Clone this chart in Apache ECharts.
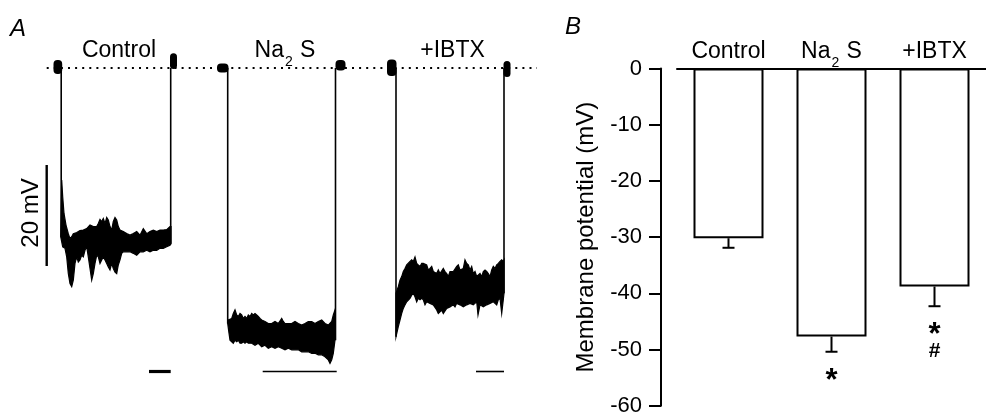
<!DOCTYPE html>
<html><head><meta charset="utf-8">
<script src="https://cdn.jsdelivr.net/npm/echarts@6/dist/echarts.min.js"></script>
<style>html,body{margin:0;padding:0;background:#fff}#c{width:986px;height:417px}</style>
</head><body><div id="c"></div>
<script>
// ---------- Panel B data ----------
const categories = ['Control', 'Na2S', '+IBTX'];
const meanPotential = [-30.2, -47.7, -38.8];   // mV
const semPotential = [1.7, 2.7, 3.5];          // mV
const significance = ['', '*', '*#'];
const potentialMin = -60, potentialMax = 0, potentialStep = 10;

// ---------- Panel A data (time in arbitrary units, potential in mV relative to baseline) ----------
const traceNames = ['Control', 'Na2S', '+IBTX'];
const controlUpper = [[21.7,-22.2],[22.7,-25.5],[24,-28.8],[26,-31.1],[28.3,-32.8],[30,-33.8],[31.7,-33.4],[33.3,-32.8],[36.7,-32.6],[40,-32.2],[43.3,-32.1],[46.7,-31.8],[50,-31.1],[53.3,-31.4],[56.7,-31.4],[58.3,-30.8],[60,-30.0],[61.7,-30.4],[63.3,-29.8],[65,-30.8],[66.7,-29.6],[68.3,-30.1],[70,-31.4],[71.7,-32.1],[73.3,-30.4],[75,-29.6],[76.7,-30.1],[78.3,-31.4],[80,-32.1],[83.3,-32.4],[86.7,-32.8],[90,-33.1],[93.3,-32.8],[96.7,-32.4],[100,-33.1],[103.3,-31.8],[106.7,-32.8],[110,-32.4],[113.3,-32.1],[116.7,-32.4],[120,-32.1],[123.3,-32.1],[126.7,-32.0],[130,-31.4],[131,-31.4]];
const controlLower = [[20.7,-33.4],[22.7,-35.4],[25,-35.7],[26.7,-37.4],[28.3,-40.7],[30,-42.7],[31.7,-43.3],[33.3,-42.0],[35,-38.7],[36.7,-37.4],[38.3,-38.4],[40,-38.0],[41.7,-37.1],[43.3,-37.4],[45,-36.1],[46.7,-35.4],[48.3,-37.4],[50,-39.7],[51.7,-42.0],[53.3,-40.7],[55,-38.7],[56.7,-37.1],[58.3,-37.4],[60,-38.7],[61.7,-38.0],[63.3,-37.4],[65,-38.0],[66.7,-38.7],[68.3,-39.4],[70,-40.0],[71.7,-38.7],[73.3,-39.7],[75,-40.4],[76.7,-40.7],[78.3,-39.0],[80,-38.0],[81.7,-36.7],[83.3,-36.4],[86.7,-36.4],[90,-36.4],[93.3,-36.7],[96.7,-37.1],[100,-36.4],[103.3,-36.4],[106.7,-36.1],[110,-36.4],[113.3,-36.1],[116.7,-36.1],[120,-35.7],[123.3,-35.7],[126.7,-35.4],[130,-35.1],[131,-34.8]];
const na2sUpper = [[188,-49.9],[191.7,-49.6],[193.3,-48.6],[195,-47.9],[196.7,-48.9],[198.3,-49.2],[200,-48.6],[201.7,-48.9],[203.3,-49.6],[205,-49.2],[206.7,-49.6],[208.3,-48.9],[210,-49.2],[211.7,-48.6],[213.3,-48.9],[215,-48.6],[216.7,-48.9],[218.3,-49.2],[220,-49.6],[221.7,-49.9],[225,-50.2],[228.3,-50.6],[231.7,-50.6],[235,-50.2],[238.3,-50.6],[241.7,-49.6],[243.3,-50.2],[245,-50.6],[248.3,-50.6],[251.7,-50.6],[255,-50.2],[258.3,-50.6],[261.7,-50.9],[265,-50.6],[268.3,-50.2],[271.7,-50.2],[275,-50.6],[278.3,-50.2],[281.7,-49.9],[285,-50.6],[288.3,-50.9],[291.7,-50.2],[293.3,-48.9],[295,-47.9]];
const na2sLower = [[187.7,-50.6],[189,-52.5],[190,-53.9],[191.7,-54.2],[193.3,-54.5],[195,-53.9],[196.7,-54.2],[198.3,-53.9],[200,-54.5],[201.7,-54.5],[203.3,-54.2],[205,-54.5],[206.7,-54.2],[208.3,-54.5],[211.7,-54.5],[215,-54.9],[218.3,-54.5],[221.7,-55.2],[225,-54.9],[228.3,-55.5],[231.7,-55.2],[235,-55.5],[238.3,-55.2],[241.7,-55.5],[245,-55.8],[248.3,-55.5],[251.7,-55.8],[255,-55.8],[258.3,-55.8],[261.7,-56.2],[265,-56.2],[268.3,-56.2],[271.7,-56.5],[275,-56.5],[278.3,-56.8],[281.7,-56.8],[285,-57.2],[288.3,-57.8],[290,-58.5],[291.7,-57.8],[293.3,-56.5],[295,-53.9]];
const ibtxUpper = [[356,-44.6],[358.3,-43.3],[360,-42.0],[361.7,-41.3],[363.3,-40.3],[365,-39.7],[366.7,-39.0],[370,-38.3],[371.7,-38.0],[373.3,-38.3],[375,-37.4],[376.7,-38.7],[378.3,-39.0],[380,-39.3],[381.7,-38.7],[383.3,-38.7],[386.7,-39.0],[388.3,-40.0],[390,-39.7],[391.7,-39.3],[393.3,-40.3],[396.7,-40.7],[398.3,-40.0],[400,-40.7],[403.3,-39.7],[405,-40.3],[406.7,-40.7],[408.3,-41.3],[410,-40.3],[413.3,-40.3],[416.7,-39.3],[418.3,-39.0],[420,-40.0],[423.3,-39.7],[425,-38.0],[426.7,-38.7],[428.3,-39.0],[430,-40.0],[431.7,-39.3],[433.3,-40.7],[435,-40.3],[436.7,-41.3],[440,-40.7],[441.7,-41.3],[443.3,-40.3],[445,-40.0],[446.7,-40.3],[448.3,-40.7],[450,-41.3],[451.7,-40.0],[453.3,-39.3],[455,-39.7],[456.7,-39.0],[458.3,-38.7],[460,-38.3],[461.7,-38.0],[463.3,-38.3],[464,-38.0]];
const ibtxLower = [[356,-53.2],[358.3,-51.2],[360,-49.9],[361.7,-48.6],[363.3,-47.6],[365,-46.9],[366.7,-46.3],[370,-45.6],[371.7,-45.0],[373.3,-44.6],[375,-45.3],[376.7,-46.3],[378.3,-45.6],[380,-45.9],[381.7,-45.6],[383.3,-45.9],[385,-46.9],[386.7,-46.3],[390,-46.6],[393.3,-46.9],[396.7,-47.9],[398.3,-48.6],[400,-48.3],[401.7,-47.9],[403.3,-48.6],[406.7,-47.6],[410,-47.3],[413.3,-46.9],[415,-47.3],[416.7,-46.6],[420,-46.9],[423.3,-47.3],[426.7,-46.9],[430,-46.6],[433.3,-46.9],[436.7,-46.3],[438,-48.9],[440,-46.9],[443.3,-47.3],[446.7,-46.9],[450,-46.6],[453.3,-46.3],[456.7,-46.9],[458.3,-45.9],[460,-45.6],[461.7,-48.6],[463.3,-45.9],[464,-44.6]];
const stepTimes = [[21.2, 130.7], [187.7, 295.5], [356, 464]];   // drop / return of each trace
// baseline noise before and after each step: [tStart, tEnd, max mV, min mV]
const baselineBlobs = [[13.5,22.2,1.6,-1.2],[130,137,2.9,-0.2],[177,188.5,0.9,-0.9],[295.5,305.5,1.6,-0.5],[347,356.5,1.7,-1.6],[463.5,470.5,1.4,-1.8]];
const analysisWindows = [[109, 130.7], [222.7, 296.7], [436, 464]];
const analysisLevel = -60.1;
const baselineSpan = [6.7, 497];
const scaleBar = {time: 6.7, top: -19.2, size: 20, label: '20 mV'};

// ---------- rendering ----------
const FONT = 'Liberation Sans, Arial, Helvetica, sans-serif';
const chart = echarts.init(document.getElementById('c'), null, {renderer: 'canvas'});

const richLabel = {
  n: {fontSize: 23, lineHeight: 30, fontFamily: FONT, color: '#000', verticalAlign: 'top'},
  s: {fontSize: 14, lineHeight: 14, fontFamily: FONT, color: '#000', padding: [16, 1, 0, 1], verticalAlign: 'top'}
};
function labelText(name) {
  return name === 'Na2S' ? '{n|Na}{s|2}{n| S}' : '{n|' + name + '}';
}

function polygonSeries(upper, lower) {
  const poly = upper.concat(lower.slice().reverse());
  return {
    type: 'custom', xAxisIndex: 0, yAxisIndex: 0, silent: true, data: poly,
    renderItem: function (params, api) {
      if (params.dataIndex !== 0) return null;
      return {type: 'polygon', shape: {points: poly.map(p => api.coord(p))},
              style: {fill: '#000', stroke: '#000', lineWidth: 1.2}};
    }
  };
}

const envelopes = [[controlUpper, controlLower], [na2sUpper, na2sLower], [ibtxUpper, ibtxLower]];
const stepData = [];
stepTimes.forEach((st, i) => {
  const low = envelopes[i][1];
  stepData.push([st[0], 0, low[0][1]]);
  stepData.push([st[1], low[low.length - 1][1], 0]);
});
const windowWidths = [3.2, 1.6, 1.6];

const traceLabelX = [119, 285, 452.5];

const option = {
  animation: false,
  backgroundColor: '#fff',
  grid: [
    {left: 40, top: 17.5, width: 505, height: 378.75},
    {left: 677, top: 68.5, right: -7.5, height: 337.2}
  ],
  xAxis: [
    {gridIndex: 0, type: 'value', min: 0, max: 505, show: false},
    {gridIndex: 1, type: 'category', data: categories, position: 'top',
     axisLine: {onZero: false, lineStyle: {color: '#000', width: 2}},
     axisTick: {show: false},
     axisLabel: {interval: 0, margin: -2, formatter: labelText, rich: richLabel}}
  ],
  yAxis: [
    {gridIndex: 0, type: 'value', min: -65, max: 10, show: false},
    {gridIndex: 1, type: 'value', min: potentialMin, max: potentialMax, interval: potentialStep, offset: 16,
     name: 'Membrane potential (mV)', nameLocation: 'middle', nameGap: 63,
     nameTextStyle: {fontSize: 24, fontFamily: FONT, color: '#000'},
     splitLine: {show: false},
     axisLine: {show: true, onZero: false, lineStyle: {color: '#000', width: 2}},
     axisTick: {show: true, length: 12, lineStyle: {color: '#000', width: 2}},
     axisLabel: {fontSize: 22, fontFamily: FONT, color: '#000', margin: 19}}
  ],
  graphic: [
    {type: 'text', x: 10, y: 17, style: {text: 'A', font: 'italic 24px ' + FONT, fill: '#000', textAlign: 'left', textVerticalAlign: 'top'}},
    {type: 'text', x: 565, y: 15, style: {text: 'B', font: 'italic 24px ' + FONT, fill: '#000', textAlign: 'left', textVerticalAlign: 'top'}},
    ...traceNames.map((n, i) => ({type: 'text', x: traceLabelX[i], y: 39,
      style: {text: labelText(n), rich: richLabel, fill: '#000', textAlign: 'center', textVerticalAlign: 'top', align: 'center', verticalAlign: 'top'}})),
    {type: 'text', x: 31, y: 213, rotation: Math.PI / 2,
     style: {text: scaleBar.label, font: '24px ' + FONT, fill: '#000', textAlign: 'center', textVerticalAlign: 'middle', align: 'center', verticalAlign: 'middle'}}
  ],
  series: [
    {type: 'line', xAxisIndex: 0, yAxisIndex: 0, silent: true, symbol: 'none',
     data: [[baselineSpan[0], 0], [baselineSpan[1], 0]],
     lineStyle: {color: '#000', width: 2, type: [2, 5.1]}},
    {type: 'custom', xAxisIndex: 0, yAxisIndex: 0, silent: true, data: baselineBlobs,
     renderItem: function (params, api) {
       const a = api.coord([api.value(0), api.value(2)]);
       const b = api.coord([api.value(1), api.value(3)]);
       return {type: 'rect', shape: {x: a[0], y: a[1], width: b[0] - a[0], height: b[1] - a[1], r: 4}, style: {fill: '#000'}};
     }},
    {type: 'custom', xAxisIndex: 0, yAxisIndex: 0, silent: true, data: stepData,
     renderItem: function (params, api) {
       const a = api.coord([api.value(0), api.value(1)]);
       const b = api.coord([api.value(0), api.value(2)]);
       return {type: 'line', shape: {x1: a[0], y1: a[1], x2: b[0], y2: b[1]}, style: {stroke: '#000', lineWidth: 1.6}};
     }},
    polygonSeries(controlUpper, controlLower),
    polygonSeries(na2sUpper, na2sLower),
    polygonSeries(ibtxUpper, ibtxLower),
    {type: 'line', xAxisIndex: 0, yAxisIndex: 0, silent: true, symbol: 'none',
     data: [[scaleBar.time, scaleBar.top], [scaleBar.time, scaleBar.top - scaleBar.size]],
     lineStyle: {color: '#000', width: 2.4}},
    {type: 'custom', xAxisIndex: 0, yAxisIndex: 0, silent: true, data: analysisWindows.map(w => [w[0], w[1], analysisLevel]),
     renderItem: function (params, api) {
       const a = api.coord([api.value(0), api.value(2)]);
       const b = api.coord([api.value(1), api.value(2)]);
       return {type: 'line', shape: {x1: a[0], y1: a[1], x2: b[0], y2: b[1]}, style: {stroke: '#000', lineWidth: windowWidths[params.dataIndex]}};
     }},
    {type: 'bar', xAxisIndex: 1, yAxisIndex: 1, data: meanPotential, barWidth: 70, silent: true,
     itemStyle: {color: '#fff', borderColor: '#000', borderWidth: 2}},
    {type: 'custom', xAxisIndex: 1, yAxisIndex: 1, silent: true, z: 5,
     data: meanPotential.map((m, i) => [i, m, semPotential[i]]),
     renderItem: function (params, api) {
       const i = api.value(0), m = api.value(1), e = api.value(2);
       const top = api.coord([i, m]);
       const bot = api.coord([i, m - e]);
       const children = [
         {type: 'line', shape: {x1: top[0], y1: top[1], x2: bot[0], y2: bot[1]}, style: {stroke: '#000', lineWidth: 2}},
         {type: 'line', shape: {x1: bot[0] - 6, y1: bot[1], x2: bot[0] + 6, y2: bot[1]}, style: {stroke: '#000', lineWidth: 2}}
       ];
       const marks = significance[params.dataIndex];
       for (let k = 0; k < marks.length; k++) {
         const ch = marks[k];
         const star = ch === '*';
         children.push({type: 'text', x: bot[0], y: bot[1] + 21 + k * 23 + (star ? 8.4 : 1),
           style: {text: ch, font: (star ? 'bold 31px ' : 'bold 21px ') + FONT, fill: '#000',
                   textAlign: 'center', textVerticalAlign: 'middle', align: 'center', verticalAlign: 'middle'}});
       }
       return {type: 'group', children: children};
     }}
  ]
};
chart.setOption(option);
</script>
</body></html>
